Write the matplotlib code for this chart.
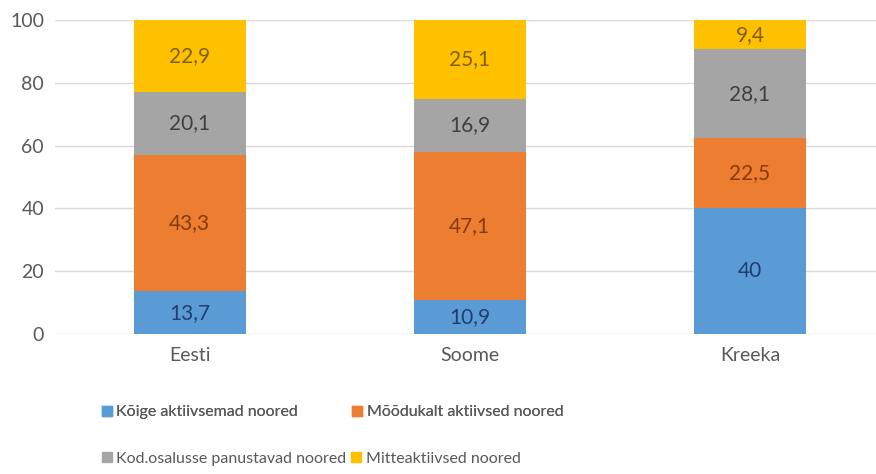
import numpy as np
from matplotlib import pyplot as plt
from matplotlib.patches import Patch

plt.rcParams['font.family'] = ['Lato', 'DejaVu Sans']

riigid = ["Eesti", "Soome", "Kreeka"]
koige_aktiivsemad = [13.7, 10.9, 40]
moodukalt_aktiivsed = [43.3, 47.1, 22.5]
kod_osalus = [20.1, 16.9, 28.1]
mitteaktiivsed = [22.9, 25.1, 9.4]

nimed = ["Kõige aktiivsemad noored", "Mõõdukalt aktiivsed noored",
         "Kod.osalusse panustavad noored", "Mitteaktiivsed noored"]
varvid = ["#5b9bd5", "#ed7d31", "#a5a5a5", "#ffc000"]
tekstivarvid = ["#1f3f6e", "#843c0c", "#404040", "#7f6000"]

fig = plt.figure(figsize=(8.76, 4.74), dpi=100)
ax = fig.add_axes([0.063, 0.295, 0.937, 0.663])

x = np.arange(len(riigid))
seeriad = [koige_aktiivsemad, moodukalt_aktiivsed, kod_osalus, mitteaktiivsed]
pohi = np.zeros(len(riigid))
for vaartused, varv, tvarv in zip(seeriad, varvid, tekstivarvid):
    vaartused = np.array(vaartused)
    ax.bar(x, vaartused, 0.4, bottom=pohi, color=varv, zorder=3)
    for xi, b, v in zip(x, pohi, vaartused):
        silt = ("%g" % v).replace(".", ",")
        ax.text(xi, b + v / 2, silt, ha="center", va="center",
                fontsize=15, color=tvarv, zorder=4)
    pohi = pohi + vaartused

ax.set_xlim(-0.48, 2.45)
ax.set_ylim(0, 100)
ax.set_yticks(range(0, 101, 20))
ax.set_xticks(x)
ax.set_xticklabels(riigid)
ax.grid(axis="y", color="#d9d9d9", linewidth=1, zorder=0)
for s in ax.spines.values():
    s.set_visible(False)
ax.tick_params(length=0, labelsize=14, labelcolor="#595959")
ax.tick_params(axis="x", pad=9)
ax.tick_params(axis="y", pad=8)

kastid = [Patch(color=c) for c in varvid]
leg1 = fig.legend(kastid[:2], nimed[:2], loc="center left", bbox_to_anchor=(0.1, 0.13),
                  ncol=2, frameon=False, fontsize=11.5, handlelength=0.6, handleheight=0.6,
                  handletextpad=0.3, columnspacing=3.4, labelcolor="#595959")
fig.add_artist(leg1)
fig.legend(kastid[2:], nimed[2:], loc="center left", bbox_to_anchor=(0.1, 0.032),
           ncol=2, frameon=False, fontsize=11.5, handlelength=0.6, handleheight=0.6,
           handletextpad=0.3, columnspacing=0.3, labelcolor="#595959")

plt.savefig("out.png", dpi=100)
